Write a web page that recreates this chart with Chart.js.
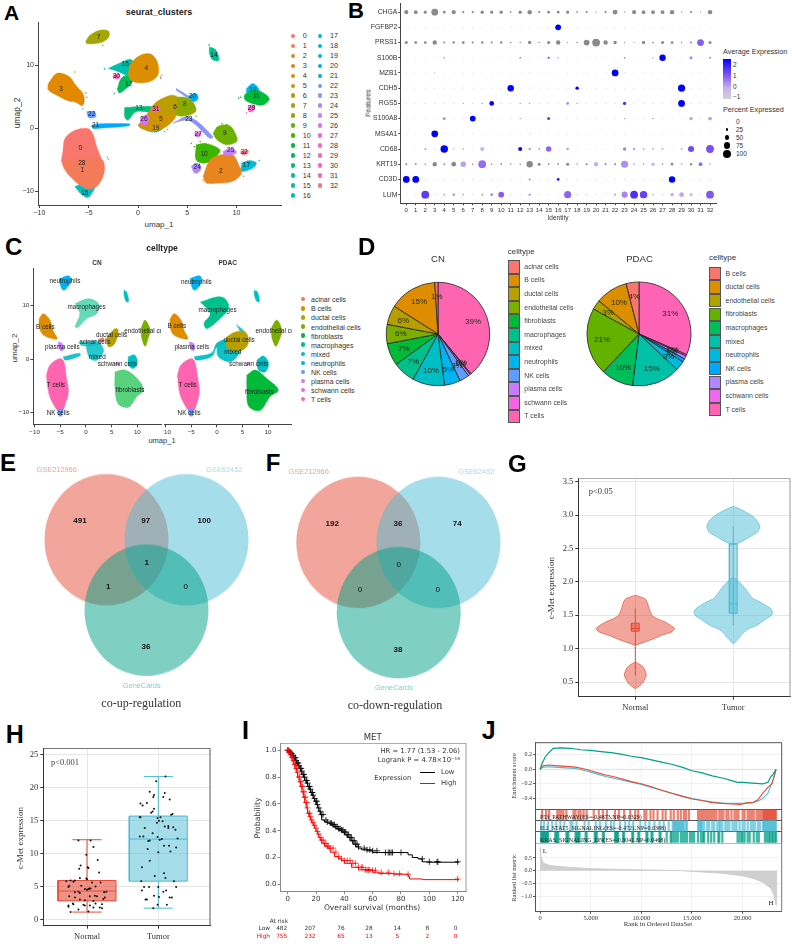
<!DOCTYPE html>
<html>
<head>
<meta charset="utf-8">
<title>Multi-panel figure</title>
<script src="https://cdn.jsdelivr.net/npm/chart.js@4"></script>
<style>
html, body { margin: 0; background: #fff; }
#page { position: relative; width: 792px; height: 944px; overflow: hidden; background: #fff; filter: blur(.35px); font-family: "Liberation Sans", Arial, sans-serif; }
#page canvas { position: absolute; }
.t { position: absolute; white-space: nowrap; line-height: 1; }
.b { position: absolute; }
</style>
</head>
<body>
<div id="page"></div>
<script>
// ---------- panel A: umap clusters (outlines, umap units) ----------
const clusterNames = ['0','1','2','3','4','5','6','7','8','9','10','11','12','13','14','15','16','17','18','19','20','21','22','23','24','25','26','27','28','29','30','31','32'];
const clusterColors = ['#F8766D','#F37B59','#E8851F','#E38900','#DB8E00','#CF9400','#BC9D00','#A3A500','#8BAB00','#6BB100','#3DB600','#00BA38','#00BC59','#00BF7D','#00C094','#00C0AD','#00BFC4','#00BCD8','#00B8E5','#00B3F0','#00ACF6','#00A8FF','#619CFF','#8B93FF','#AC88FF','#C77CFF','#DC71FA','#EE67EB','#F962DD','#FF61C9','#FF62BC','#FF67A4','#FC7080'];
const clusterShapes = [
  [15, [[-3,9.5],[-1.9,10.3],[-.7,10.9],[-.5,9.7],[-1,8.4],[-1.9,8.9]]],
  [12, [[-2.1,6.2],[-1.7,7.9],[-1,8.4],[-.5,7.9],[-.7,7.1],[-1.2,6.3],[-1.9,5.6]]],
  [4, [[-1,8.4],[-.7,10.3],[.3,11.6],[1.35,11.7],[2,10.3],[2,8.4],[1.2,7.4],[0,7.2],[-.7,7.6]]],
  [30, [[-2.5,8.4],[-1.9,8.6],[-1.9,7.9],[-2.5,7.9]]],
  [7, [[-5.3,13.8],[-4.9,14.7],[-3.9,15.5],[-3,15.4],[-2.95,14.5],[-3.55,13.7],[-4.4,13.4],[-5.2,13.4]]],
  [3, [[-9.1,7.1],[-8.2,8.7],[-7,8.2],[-6.3,6.8],[-5.5,5.2],[-5.6,3.6],[-6.3,4.1],[-7,4.3],[-8.2,5.2],[-9.1,6.1]]],
  [14, [[7.25,12.9],[7.9,12.4],[8.2,10.8],[7.6,10.8],[7.25,11.8]]],
  [21, [[-4.7,.5],[-3.9,.7],[-.85,.7],[-.9,.4],[-3.9,0],[-4.6,0]]],
  [22, [[-5.2,2.6],[-4.4,2.6],[-4.3,1.8],[-5,1.7]]],
  [16, [[-6.4,-9.2],[-5.7,-8.9],[-4.4,-9.1],[-4.9,-10.8],[-5.3,-10.9],[-5.9,-10.2]]],
  [0, [[-7.6,-3.4],[-7.4,-1.6],[-6.5,-.4],[-5.2,0],[-4.6,-.8],[-4.2,-2.9],[-3.7,-4.9],[-3.6,-5.6],[-7.6,-5.6]]],
  [1, [[-7.6,-4.9],[-5.6,-4.8],[-3.7,-4.9],[-3.4,-6.6],[-3.9,-8.7],[-4.7,-9.6],[-5.7,-9.2],[-6.9,-7.6],[-7.6,-6]]],
  [13, [[-1.35,3.3],[.85,3.5],[1.7,3.3],[1.5,2.6],[-.2,2.6],[-1,1.3],[-1.35,1.8]]],
  [23, [[3.5,.8],[5.2,1.8],[7.6,-1.3],[7.3,-1.6],[5.2,1.2]]],
  [23, [[3.9,6.3],[5.2,5],[5.2,4.7],[3.9,6]]],
  [19, [[.7,0],[2.2,.4],[2.5,0],[1.9,-.6],[1,-.4]]],
  [5, [[0,.5],[.85,2.1],[1.9,4.2],[3.5,5],[3.5,3.4],[3.9,2.1],[2.9,.3],[1.5,-.5],[.3,0]]],
  [6, [[1.9,4.2],[3.2,5.2],[3.9,5],[4.2,3.4],[3.9,2.1],[3.2,2.4],[2.2,2.4]]],
  [8, [[3.9,5],[5.2,4.7],[5.9,2.9],[5.2,2.1],[3.9,2.1],[4.05,3.7]]],
  [20, [[5.1,5.1],[5.9,5.5],[6.1,4.7],[5.6,4.2]]],
  [31, [[1.35,3.3],[2.2,3.4],[2,2.6],[1.45,2.6]]],
  [26, [[.25,1.7],[1,2.1],[1,.8],[.35,.5]]],
  [27, [[5.75,-.7],[6.4,-.7],[6.25,-1.3],[5.85,-1.3]]],
  [9, [[7.6,-.8],[8.1,.3],[9.3,.4],[10,-1.3],[10,-2.1],[9,-2.6],[8,-1.8]]],
  [10, [[5.9,-2.6],[6.9,-2.4],[8.3,-3.4],[7.9,-4.5],[6.9,-5.5],[5.9,-5]]],
  [24, [[5.4,-6],[5.9,-5.5],[6.4,-6],[6.25,-6.8],[5.75,-7.1]]],
  [17, [[10.5,-5.5],[11.3,-5.1],[12,-5.5],[11.65,-6.3],[10.5,-6.8]]],
  [2, [[6.6,-7.6],[7.3,-5],[8.4,-4.2],[9.6,-4.2],[10.3,-6.1],[10.5,-7.1],[9.6,-8.4],[7.9,-8.7],[6.9,-8.6]]],
  [25, [[8.6,-3.7],[9.3,-3.2],[10,-3.7],[9.6,-4.2],[8.8,-4.2]]],
  [32, [[10.4,-3.7],[11.2,-3.5],[11,-4.1],[10.5,-4.1]]],
  [18, [[11,6.3],[11.65,7.1],[12.3,6],[11.65,5.5],[11.05,5.3]]],
  [11, [[10.8,5.3],[11.65,6],[12.5,5.8],[13.3,4.7],[12.7,3.7],[11.65,3.9],[10.8,4.6]]],
  [29, [[11.15,3.4],[11.8,3.7],[11.8,2.9],[11.25,2.6]]]
];
// stray cells outside the main clouds: cluster, umap_1, umap_2
const clusterStrays = [[3,-6.4,8.9],[3,-5.3,5.6],[3,-5.2,4.9],[7,-3.6,13.1],[4,2.3,8.1],[26,2.4,8.4],[26,2.3,7.9],[0,-3.1,-4.6],[0,-3,-4.9],[17,12.3,-5.1],[8,5.9,1.9],[9,9,.6],[9,8.5,.7],[10,5.4,-2.4],[10,5.7,-2.9],[10,6.3,-2.1],[11,10.4,4.9],[11,10.2,4.8],[29,11,2.4],[14,7.2,13.2],[5,3,-.2],[5,2.7,-.5],[22,-5.6,3.1],[12,-2.4,5.5],[15,-3.4,9.4],[16,-4.5,-9.5],[2,6.6,-8.2],[2,10.7,-7.6],[6,.5,.7]];
const clusterLabels = [['0',-5.85,-3.2],['28',-5.7,-5.6],['1',-5.65,-6.6],['16',-5.4,-10.2],['22',-4.7,2.3],['21',-4.3,.5],['3',-7.8,6.2],['7',-4,14.4],['15',-1.3,10.2],['4',.85,9.5],['30',-2.2,8.3],['12',-.95,7],['13',.1,3.1],['31',1.8,3],['26',.6,1.5],['5',2.3,1.4],['6',3.75,3.4],['8',4.75,3.8],['20',5.5,5.05],['23',5.15,1.5],['19',1.8,-.05],['14',7.7,11.5],['18',11.65,6.05],['11',12,5],['29',11.5,3.2],['27',6.1,-.95],['9',8.8,-.7],['10',6.7,-4.15],['25',9.4,-3.5],['32',10.75,-3.75],['24',6,-6.15],['2',8.4,-6.8],['17',11,-5.8]];
const umapTicksX = [-10, -5, 0, 5, 10];
const umapTicksY = [-10, 0, 10];

// ---------- panel B: dot plot ----------
const genes = ['LUM','CD3D','KRT19','CD68','MS4A1','S100A8','RGS5','CDH5','MZB1','S100B','PRSS1','FGFBP2','CHGA'];
const identities = [...Array(33).keys()];
const pctCHGA = [45,40,30,85,25,45,15,15,35,30,35,10,35,50,15,25,25,30,10,15,2,15,55,5,45,40,40,40,50,5,15,2,50];
const pctFGFBP2 = [2,2,2,2,2,2,2,2,2,2,2,2,2,2,2,2,70,2,2,2,2,2,2,2,2,2,2,2,2,2,2,2,2];
const pctPRSS1 = [30,25,25,50,15,20,25,15,20,15,20,8,8,35,8,30,50,3,8,70,100,50,35,3,2,35,10,30,25,5,15,85,30];
const pctS100B = [2,2,2,2,10,2,2,2,2,2,2,2,8,2,2,15,5,2,2,2,2,2,2,10,2,2,10,80,2,2,30,2,12];
const pctMZB1 = [2,2,2,5,2,2,2,2,2,2,2,2,2,3,2,2,2,2,2,2,2,2,85,4,2,2,2,2,2,2,2,2,2];
const pctCDH5 = [2,2,2,2,2,2,2,2,2,2,2,80,2,2,2,2,2,2,35,2,2,2,2,2,2,2,2,2,2,90,2,2,2];
const pctRGS5 = [2,2,2,2,2,3,5,2,5,55,2,2,5,5,2,2,2,25,5,2,2,2,2,35,2,2,2,2,2,85,2,2,2];
const pctS100A8 = [2,2,2,2,25,3,2,70,2,2,2,2,5,2,2,30,2,2,2,2,2,2,2,4,2,2,5,2,2,2,35,2,40];
const pctMS4A1 = [2,2,2,85,2,2,2,2,2,2,2,2,2,5,2,2,2,2,2,2,2,3,2,2,2,2,2,2,2,2,2,2,2];
const pctCD68 = [2,2,15,3,95,5,10,2,45,2,3,2,45,20,12,65,2,20,2,2,2,2,2,35,20,12,12,12,2,15,75,2,100];
const pctKRT19 = [15,12,8,50,12,55,65,8,100,8,10,8,8,80,30,12,10,30,5,15,50,15,15,90,15,5,35,8,25,15,20,40,15];
const pctCD3D = [85,85,2,2,3,2,2,2,2,2,2,2,2,12,2,2,25,2,3,2,2,2,2,2,2,2,2,2,80,2,2,2,2];
const pctLUM = [3,3,100,3,15,20,10,3,20,25,70,5,5,20,5,5,3,90,8,8,3,3,15,75,100,95,10,8,35,55,30,3,100];
// average expression where it differs from the low end of the colour bar, by identity
const avgCHGA = {};
const avgFGFBP2 = {16:2.5};
const avgPRSS1 = {31:1.0};
const avgS100B = {4:.5,12:1.2,15:1.5,16:.5,23:.8,26:0,27:2.5,30:.5,32:.7};
const avgMZB1 = {3:0,22:2.5};
const avgCDH5 = {11:2.5,18:2.5,29:2.5};
const avgRGS5 = {6:.5,8:.5,9:2.5,12:.5,13:.5,17:.5,18:.5,23:1.7,29:2.5};
const avgS100A8 = {4:.6,7:2.5,12:.5,15:1.5,23:.5,26:1,30:.2,32:.2};
const avgMS4A1 = {3:2.5,13:0};
const avgCD68 = {2:.2,3:0,4:2.5,5:.3,6:.3,8:-.1,12:2.4,13:.3,14:.3,15:.9,17:.3,23:.6,24:.2,25:.1,26:.1,27:.1,29:0,30:1.3,32:1.2};
const avgKRT19 = {6:.2,8:.8,20:0,23:.4,24:-.3,26:-.2,29:-.3,31:.9,32:-.5};
const avgCD3D = {0:2.5,1:2.5,13:.8,16:2.2,28:2.5};
const avgLUM = {2:1.5,4:0,5:.5,6:.2,8:0,9:.5,10:1,13:.3,17:.9,22:.2,23:.5,24:1.7,25:1.4,26:.1,28:.1,29:.1,30:-.3,32:1.1};
const pctRows = [pctLUM,pctCD3D,pctKRT19,pctCD68,pctMS4A1,pctS100A8,pctRGS5,pctCDH5,pctMZB1,pctS100B,pctPRSS1,pctFGFBP2,pctCHGA];
const avgRows = [avgLUM,avgCD3D,avgKRT19,avgCD68,avgMS4A1,avgS100A8,avgRGS5,avgCDH5,avgMZB1,avgS100B,avgPRSS1,avgFGFBP2,avgCHGA];
const grayGenes = ['CHGA','PRSS1','KRT19'];

// ---------- panel C: cell type umap facets ----------
const cellTypes = ['acinar cells','B cells','ductal cells','endothelial cells','fibroblasts','macrophages','mixed','neutrophils','NK cells','plasma cells','schwann cells','T cells'];
const cellColors = ['#F8766D','#DE8C00','#B79F00','#7CAE00','#00BA38','#00C08B','#00BFC4','#00B4F0','#619CFF','#C77CFF','#F564E3','#FF64B0'];
const facetCN = [
  [7, 1, [[-5.1,15.1],[-3.4,15.6],[-2.8,14.8],[-3.4,13.7],[-4.4,12.9],[-5.1,14.2]]],
  [6, 1, [[7.4,12.9],[7.9,12.6],[8.3,10.8],[7.8,10.8],[7.4,12]]],
  [5, .6, [[-2.1,10.4],[.45,11.3],[2.4,10.4],[2.1,8.5],[.15,7.6],[-1.5,6],[-2.1,6.05],[-1.2,8.5]]],
  [1, 1, [[-9.1,7.6],[-8.3,8.5],[-7,7.3],[-6.4,5.4],[-5.6,3.9],[-6,3.7],[-8.3,4.5],[-9.1,6]]],
  [9, 1, [[-5.4,3.2],[-4.6,2.9],[-4.4,1.7],[-5.1,1.7]]],
  [11, 1, [[-7.7,-3],[-7,-1.1],[-5.1,.1],[-4.3,-.5],[-3.8,-3.6],[-3.4,-6.1],[-4.1,-8.6],[-4.6,-9.8],[-5.5,-9.6],[-6.6,-8],[-7.3,-6.1]]],
  [8, 1, [[-5.6,-9.4],[-4.6,-9.4],[-4.7,-10.6],[-5.3,-10.6]]],
  [6, .9, [[-4.4,.45],[-1.2,1.1],[-1.2,.6],[-4.1,-.2]]],
  [6, .85, [[.1,2.9],[2.7,2.9],[3.4,1.4],[2.1,-.2],[.8,.1],[.1,2]]],
  [6, .75, [[-1.2,3.2],[2.7,3.4],[2.7,2.7],[-.85,2.5]]],
  [2, 1, [[4,3.9],[5.6,5.7],[6.3,5.4],[5.6,2.9],[4.35,2.3]]],
  [0, 1, [[2.4,3.7],[3.4,4],[3.5,3.4],[2.6,3.2]]],
  [3, 1, [[10.8,6],[11.5,7.3],[12.5,5.4],[12.1,3.9],[11.5,2.4],[10.8,4.2]]],
  [10, 1, [[5.8,-.7],[6.3,-.7],[6.3,-1.1],[5.8,-1.1]]],
  [6, 1, [[8.25,.45],[9.5,.75],[10,-.8],[9.2,-1.75],[8.25,-1.1]]],
  [4, .65, [[5.65,-2.4],[7.6,-2.05],[9.9,-3.6],[11.2,-5.8],[9.9,-7],[8.25,-9],[6.3,-8.4],[5.65,-5.5]]]
];
const facetPDAC = [
  [7, 1, [[-5.2,15.1],[-3.4,15.6],[-2.9,14.8],[-3.4,13.7],[-4.4,12.9],[-5.1,14.2]]],
  [6, 1, [[7.3,12.9],[7.9,12.6],[8.3,10.8],[7.8,10.8],[7.3,12]]],
  [5, 1, [[-3.2,10.7],[0,11.65],[1.6,11.3],[2.3,9.5],[.65,7.6],[-1.95,5.7],[-2.5,6.7],[-1.3,8.5]]],
  [1, 1, [[-9.1,7.6],[-8.3,8.5],[-7,7.3],[-6.4,5.4],[-5.6,3.9],[-6.1,3.7],[-8.4,4.5],[-9.1,6]]],
  [9, 1, [[-5.4,3.2],[-4.5,2.9],[-4.4,1.7],[-5,1.7]]],
  [11, 1, [[-7.7,-3],[-7,-1.1],[-5,.1],[-4.3,-.5],[-3.7,-3.6],[-3.4,-6.1],[-4,-8.6],[-4.6,-9.8],[-5.5,-9.6],[-6.6,-8],[-7.3,-6.1]]],
  [8, 1, [[-5.6,-9.4],[-4.6,-9.4],[-4.7,-10.6],[-5.3,-10.6]]],
  [6, .95, [[-4.4,.45],[-1,1.2],[0,3],[1.95,3.7],[1.95,3],[0,2.2],[-1,.5],[-4.1,-.2]]],
  [6, .95, [[0,2.6],[1.95,3.55],[4.9,2.3],[3.9,.45],[2.6,-.5],[.3,.45]]],
  [6, .85, [[3.8,6.5],[5.5,5.1],[4.9,4.8]]],
  [2, 1, [[1.95,4.2],[3.6,5.1],[5.5,5.1],[6.2,3.55],[5.5,2],[3.6,1.5],[1.95,2.3]]],
  [3, 1, [[10.7,6],[11.7,7.3],[12.7,5.4],[12.3,3.9],[11.5,2.4],[10.7,4.2]]],
  [10, 1, [[6,-.7],[6.4,-.7],[6.4,-1.1],[6,-1.1]]],
  [6, 1, [[7.8,-.2],[9.1,.6],[10.1,-.8],[9.4,-2.4],[8.1,-2.05]]],
  [4, 1, [[5.85,-3],[7.5,-2.05],[9.7,-3.6],[12,-5.8],[10.4,-7],[8.4,-9.6],[6.2,-8.8],[5.85,-5.5]]]
];
const labelsCN = [['neutrophils',-4.1,14.5],['macrophages',.1,9.7],['B cells',-7.9,6],['ductal cells',5,4.4],['endothelial cells',11.8,5.2],['acinar cells',1.75,3.1],['plasma cells',-4.6,2.25],['mixed',2.2,.3],['schwann cells',6.1,-1],['fibroblasts',8.6,-5.8],['T cells',-5.85,-4.9],['NK cells',-5.4,-10.1]];
const labelsPDAC = [['neutrophils',-4,14.3],['macrophages',.15,9.2],['B cells',-7.8,6.2],['ductal cells',4.35,3.6],['endothelial cells',11.9,5.2],['plasma cells',-4.9,2.3],['mixed',3.1,1.3],['schwann cells',6.2,-1.05],['fibroblasts',8.3,-6.2],['T cells',-5.7,-4.9],['NK cells',-5.4,-10.1]];

// ---------- panel D: pies (clockwise from 12 o'clock) ----------
const pieCNValues = [39,.3,.7,3,5,10,7,7,6,6,15,1];
const pieCNLabels = ['39%','0%','1%','3%','5%','10%','7%','7%','6%','6%','15%','1%'];
const pieCNColors = ['#FF64B0','#F564E3','#C77CFF','#619CFF','#00B4F0','#00BFC4','#00C08B','#00BA38','#7CAE00','#B79F00','#DE8C00','#F8766D'];
const piePDACTypes = ['B cells','ductal cells','endothelial cells','fibroblasts','macrophages','mixed','neutrophils','NK cells','plasma cells','schwann cells','T cells'];
const piePDACKeys = ['#F8766D','#DB8E00','#AEA200','#64B200','#00BD5C','#00C1A7','#00BADE','#00A6FF','#B385FF','#EF67EB','#FF63B6'];
const piePDACValues = [31.5,.5,1,1,3,15,10,21,3,10,4];
const piePDACLabels = ['31%','0%','1%','1%','3%','15%','10%','21%','3%','10%','4%'];

// ---------- panels E, F: venn ----------
const vennColors = ['rgba(230,75,53,.5)','rgba(77,187,213,.5)','rgba(0,160,135,.5)'];
const vennUpX = [106.5, 186.5, 146.5];
const vennUpY = [539.7, 539.7, 610.3];
const vennDownX = [358.3, 438.5, 398.7];
const vennDownY = [542.3, 542.3, 612.7];
const vennSetNames = ['GSE212966','GSE62452','GeneCards'];
const vennUpCounts = ['491','97','100','1','1','0','36'];
const vennDownCounts = ['192','36','74','0','0','0','38'];

// ---------- panel G: violins (y, half width) ----------
const violinNormalUpperY = [1.8,1.75,1.7,1.6,1.5,1.45,1.4,1.35,1.3,1.25,1.2,1.15,1.1,1.05];
const violinNormalUpperW = [0,.095,.12,.14,.17,.22,.3,.36,.4,.37,.27,.19,.1,0];
const violinNormalLowerY = [.8,.75,.7,.6,.5,.45,.4];
const violinNormalLowerW = [0,.06,.09,.112,.08,.05,0];
const violinTumorLowerY = [2.07,2,1.9,1.8,1.75,1.7,1.65,1.6,1.55,1.5,1.45,1.4,1.35,1.3,1.25,1.2,1.1,1.07];
const violinTumorLowerW = [0,.06,.12,.17,.2,.27,.33,.38,.4,.39,.34,.29,.24,.16,.11,.08,.02,0];
const violinTumorUpperY = [3.13,3.1,3.05,3,2.95,2.9,2.83,2.75,2.7,2.65,2.6,2.55];
const violinTumorUpperW = [0,.05,.12,.18,.22,.25,.27,.25,.2,.14,.08,0];
const violinGroups = ['Normal','Tumor'];
// low whisker, q1, median, q3, high whisker
const violinBoxNormal = [.6,1.26,1.3,1.38,1.6];
const violinBoxTumor = [1.35,1.53,1.67,2.57,2.83];
const violinTicks = [.5,1,1.5,2,2.5,3,3.5];
const violinTickLabels = ['0.5','1.0','1.5','2.0','2.5','3.0','3.5'];

// ---------- panel H: box plot with points ----------
const boxNormal = [1.1,2.8,4.3,5.9,12.1];
const boxTumor = [1.7,5.8,12.2,15.7,21.7];
const boxTicks = [0,5,10,15,20,25];
const pointsNormal = [[-.12,12],[.05,12],[.09,11],[-.01,9.8],[.15,9],[.01,7.9],[.02,7.8],[-.09,8.2],[-.11,7.7],[.17,7.1],[-.1,6.3],[-.17,5.9],[-.29,5.8],[-.23,5.9],[-.19,5.7],[-.01,6.2],[0,6.1],[.07,5.6],[.19,5.6],[-.25,5.1],[-.26,4.9],[-.08,5.1],[.05,4.7],[.12,5],[.02,4.6],[.03,4.7],[-.03,4.6],[0,4.5],[-.12,4.2],[-.17,4.1],[-.1,4],[.27,4.2],[.24,4.1],[-.25,3.5],[.04,3.5],[.11,3.6],[.14,3.5],[-.17,3.3],[.25,3.3],[.23,3.1],[-.1,3],[-.03,2.9],[.09,2.8],[-.26,2.1],[-.19,2.3],[-.2,2.4],[.04,2.1],[-.03,2.1],[.12,2.4],[.21,2.3],[.09,1.8],[.18,1.8],[.21,1.7],[-.12,1.5],[-.23,1.1],[.02,1.2],[-.26,1.9],[-.05,2.2]];
const pointsTumor = [[1.1,21.7],[.97,21],[.88,19.4],[1.09,19.2],[.94,18.9],[.93,18.6],[1.07,18.6],[1.16,18.2],[.84,17.7],[.75,17.6],[.78,17.3],[.94,16.8],[.92,16.4],[.9,16.2],[1.2,16],[1.18,15.9],[.74,15.5],[.75,15.5],[1.03,15.5],[.99,15.4],[1.01,15],[1.06,14.9],[.98,14.7],[1.14,14.2],[1.09,14.1],[1.14,13.9],[1.21,14],[1.24,13.6],[.81,13.9],[.92,13.1],[.74,12.6],[.79,12.6],[.99,12.5],[1.27,12.3],[1.05,12.2],[1.02,12.1],[.88,12],[.86,11.9],[1.08,11.2],[1.15,11.2],[1.25,10.9],[.85,10.7],[1.17,10.3],[1,10.2],[.88,8.9],[.77,7.9],[1.08,7],[.95,6.6],[1.1,6.3],[1.22,5.8],[.76,5.8],[.8,4.9],[.87,4.9],[1,4.9],[1.25,4.9],[.77,4.4],[1.11,4.4],[1.07,4.2],[.94,3.6],[1.01,3.4],[.84,3],[.82,3],[1.16,3.3],[1.19,3.3],[.99,2.2],[.93,1.7],[1.12,2.2]];

// ---------- panel I: survival ----------
const lowT = [0,1,2,3,4,5,6,7,8,9,10,11,12,13,14,15,16,17,18,19,20,21,22,23,24,26,28,30,32,34,36,38,40,42,44,46,48,50,52,56,60,64,85,88,92,95,98,121];
const lowS = [1,.995,.985,.975,.96,.945,.925,.905,.885,.865,.845,.82,.8,.775,.755,.73,.71,.685,.665,.64,.62,.595,.57,.545,.52,.48,.465,.457,.445,.43,.415,.405,.39,.37,.35,.325,.3,.28,.27,.258,.25,.237,.237,.22,.2,.19,.168,.165];
const highT = [0,1,2,3,4,5,6,7,8,9,10,11,12,13,14,15,16,17,18,19,20,21,22,23,24,26,28,30,33,36,38,40,45,50,55,60,64,75,85,86,95,121];
const highS = [1,.985,.965,.945,.92,.895,.865,.835,.8,.765,.73,.69,.65,.61,.57,.53,.505,.48,.46,.44,.42,.395,.375,.35,.33,.305,.285,.27,.24,.207,.19,.178,.157,.127,.108,.105,.09,.08,.075,.058,.04,.035];
const lowCensor = [0,1,2,3,4,5,5.5,6,7,7.5,8,9,9.5,10,11,11.5,12,13,13.5,14,15,15.5,16,17,17.5,18,19,20,20.5,21,22,23,24,25,27,28,30,31,32,33,34,35,36,37,38,39,40,41,42,43,44,45,46,47,48,49,50,54,56,58,60,63,69,71,72,73,74,80,95,100,105.5,106,120];
const highCensor = [0,.5,1,2,3,3.5,4,5,5.5,6,6.5,7,8,8.5,9,9.5,10,10.5,11,11.5,12,12.5,13,13.5,14,15,15.5,16,17,18,19,20,21,22,23,24,25,26,27,28,29,30,32,34,36,38,40,42,44,46,48,50,52,53,55,56,57,58,60,62,66,71,75,79,85,120];
const kmTicksX = [0,20,40,60,80,100,120];
const kmTicksY = [0,.2,.4,.6,.8,1];
const kmTickLabelsY = ['0.0','0.2','0.4','0.6','0.8','1.0'];
const atRiskLow = ['482','207','76','28','14','8','0'];
const atRiskHigh = ['755','232','65','13','5','2','0'];

// ---------- panel J: GSEA (rank in thousands) ----------
const esTealRank = [0,.2,.5,.8,1.3,2,3,4,5,6,7,8,9,10,11,12,13,14,15,16,17,18,19,19.5,20,21,22,22.5,22.8,23,23.3];
const esTeal = [0,.08,.17,.22,.29,.295,.29,.27,.26,.245,.23,.21,.18,.16,.13,.1,.07,.03,-.02,-.05,-.09,-.12,-.16,-.18,-.18,-.19,-.2,-.18,-.1,-.07,0];
const esRedRank = [0,.3,.8,1.5,2.5,3.5,4.5,5.5,6.5,7.5,9,10,11,12,13,14,15,16,17,18,19,19.8,20.5,21,21.5,22,22.5,22.9,23.3];
const esRed = [0,.05,.06,.05,.04,.03,0,-.04,-.08,-.11,-.17,-.2,-.24,-.29,-.33,-.37,-.41,-.43,-.46,-.47,-.48,-.485,-.46,-.46,-.42,-.33,-.25,-.2,-.01];
const esBlueRank = [0,.3,.8,1.5,2.5,3.5,4.5,5.5,6.5,7.5,9,10,11,12,13,14,15,16,17,18,19,20,21,21.5,22,22.5,23,23.3];
const esBlue = [0,.03,.035,.03,.02,.01,-.02,-.06,-.1,-.13,-.18,-.21,-.25,-.29,-.33,-.37,-.4,-.43,-.45,-.465,-.47,-.47,-.46,-.44,-.4,-.33,-.15,0];
const p53Hits = [.2,.6,.9,1.7,1.9,2.1,2.3,2.6,3.3,3.5,3.8,4,4.3,4.6,5.3,5.8,6.2,6.6,7.4,7.8,8.3,8.9,9.4,9.7,10.3,10.5,10.9,11.2,11.6,12.1,12.4,12.9,13.2,13.6,13.9,14.2,14.4,14.7,15.6,15.8,16,16.2,16.4,16.6,16.8,17,17.2,17.4,17.7,17.9,18.1,18.4,18.6,18.9,19.2,19.4,19.6,20,20.2,20.5,20.7,20.9,21.1,21.4,21.6,21.8,22,22.1,22.2,22.3,22.4,22.5,22.6,22.7,22.8,22.9,23,23.1,23.2,23.3];
const il2Hits = [.1,.4,.8,1.2,1.6,2,2.4,3,3.2,3.6,4.4,4.8,5.5,5.9,6.5,7,7.3,7.9,8.4,8.8,9.2,9.9,10.4,10.8,11.3,11.8,12.2,12.7,13.1,13.2,13.3,13.4,13.5,13.6,13.7,13.8,13.9,14,14.1,14.2,14.4,14.5,15.6,15.7,15.8,15.9,16,16.2,16.5,16.7,17,17.2,17.5,17.7,17.8,18,18.3,18.5,18.7,19,19.2,19.4,19.7,20,20.2,20.5,20.8,21,21.2,21.5,21.7,22,22.1,22.2,22.3,22.4,22.5,22.6,22.7,22.8,22.9,23,23.1,23.2,23.3];
const krasHits = [.1,.2,.3,.4,.5,.6,.7,.8,1.5,1.6,1.7,1.8,2.6,2.7,2.8,3.5,3.6,3.7,3.8,3.9,4.5,4.6,5.4,5.5,5.6,6.2,6.3,7.4,7.5,7.6,7.7,8.2,8.3,9.1,9.2,9.7,9.8,10.5,10.6,11,11.1,11.8,11.9,12.5,12.9,13,13.2,13.4,13.6,13.9,14.1,14.3,14.5,14.8,15,15.2,15.6,15.9,16.1,16.2,16.6,16.9,17.2,17.6,17.7,18,19.5,19.7,19.9,20,20.2,20.5,20.7,21.1,21.4,21.6,22.2,22.4,22.6,22.7,22.9,23,23.2,23.3];
const gseaSets = ['P53_PATHWAY(ES=-0.4873,NP=0.0329)','IL2_STAT5_SIGNALING(ES=-0.4721,NP=0.0388)','KRAS_SIGNALING_DN(ES=-0.3041,NP=0.0468)'];
const metricRank = [0,.05,.1,.2,.3,.5,1,2,3,5,8,12,14,16,18,20,21,22,22.8,23.1,23.3,23.35];
const metric = [.9,.7,.55,.42,.33,.27,.2,.16,.13,.08,.05,.02,0,-.05,-.1,-.2,-.3,-.45,-.7,-.95,-1.35,0];
const gseaTicks = [0,5,10,15,20];
const gseaTickLabels = ['0','5,000','10,000','15,000','20,000'];

// ---------- helpers ----------
const page = document.getElementById('page');
const SERIF = '"Liberation Serif", serif';
const DEJAVU = '"DejaVu Sans", sans-serif';
Chart.defaults.font.family = '"Liberation Sans", Arial, sans-serif';
Chart.defaults.animation = false;
Chart.defaults.responsive = false;
Chart.defaults.events = [];
Chart.defaults.plugins.legend.display = false;
Chart.defaults.plugins.tooltip.enabled = false;

// Absolute text, x/y are the anchor and the vertical centre
function txt(x, y, s, o = {}) {
  const el = document.createElement('div');
  el.className = 't';
  el.textContent = s;
  el.style.left = x + 'px';
  el.style.top = y + 'px';
  el.style.fontSize = (o.size || 7) + 'px';
  if (o.font) el.style.fontFamily = o.font;
  if (o.weight) el.style.fontWeight = o.weight;
  el.style.color = o.color || '#222';
  const ax = o.anchor === 'l' ? '0' : o.anchor === 'r' ? '-100%' : '-50%';
  el.style.transform = `translate(${ax},-50%)` + (o.rotate ? ` rotate(${o.rotate}deg)` : '');
  page.appendChild(el);
  return el;
}

function rect(x, y, w, h, css) {
  const el = document.createElement('div');
  el.className = 'b';
  el.style.cssText += `left:${x}px;top:${y}px;width:${w}px;height:${h}px;${css}`;
  page.appendChild(el);
}

function dot(x, y, r, color) {
  rect(x - r, y - r, 2 * r, 2 * r, `border-radius:50%;background:${color}`);
}

function letter(x, base, s, size) {
  const el = txt(x, base, s, { size, weight: 'bold', color: '#000', anchor: 'l' });
  el.style.transform = 'translate(0,-86%)';
}

function axis(min, max, vals, o = {}) {
  return {
    type: 'linear', min, max,
    afterBuildTicks: s => { s.ticks = vals.map(v => ({ value: v })); },
    grid: { display: true, drawOnChartArea: !!o.grid, color: o.grid || 'transparent', tickLength: o.tick ?? 3, tickColor: o.axis || '#444', drawTicks: vals.length > 0 },
    border: { display: o.line !== false, color: o.axis || '#444', width: o.w || 1 },
    ticks: {
      display: vals.length > 0, autoSkip: false, maxRotation: 0, minRotation: 0, padding: o.pad ?? 1, color: o.color || '#333',
      font: { size: o.size || 6.5, family: o.font || Chart.defaults.font.family },
      callback: o.labels ? (v, i) => o.labels[i] : v => String(v).replace('-', '\u2212')
    }
  };
}

// Chart whose plot area lands on plot = [left, top, right, bottom] in page pixels
function frameChart(plot, m, cfg) {
  const [l, t, r, b] = plot;
  const bx = Math.floor(l - m[0]), by = Math.floor(t - m[1]);
  const bw = Math.ceil(r + m[2]) - bx, bh = Math.ceil(b + m[3]) - by;
  const c = document.createElement('canvas');
  c.width = bw; c.height = bh;
  c.style.left = bx + 'px'; c.style.top = by + 'px';
  c.style.width = bw + 'px'; c.style.height = bh + 'px';
  page.appendChild(c);
  cfg.options = cfg.options || {};
  cfg.options.layout = { autoPadding: false, padding: { top: t - by, right: bx + bw - r, left: 0, bottom: 0 } };
  cfg.options.scales.y.afterFit = s => { s.width = l - bx; s.paddingTop = s.paddingBottom = 0; };
  cfg.options.scales.x.afterFit = s => { s.height = by + bh - b; s.paddingLeft = s.paddingRight = 0; };
  return new Chart(c.getContext('2d'), cfg);
}

// Filled outline through the scales
function shape(pts, color, alpha = 1, tension = .35) {
  const closed = pts.concat([pts[0]]);
  return {
    data: closed.map(p => ({ x: p[0], y: p[1] })), showLine: true, fill: 'shape', tension, pointRadius: 0,
    backgroundColor: color + Math.round(alpha * 255).toString(16).padStart(2, '0'),
    borderColor: color + Math.round(alpha * 200).toString(16).padStart(2, '0'), borderWidth: 1, borderDash: [1, 1]
  };
}

function line(xs, ys, color, w = 1, extra = {}) {
  return Object.assign({ data: xs.map((x, i) => ({ x, y: ys[i] })), showLine: true, pointRadius: 0, borderColor: color, borderWidth: w, tension: 0 }, extra);
}

// Text at data coordinates
function dataText(items, font, color, clip) {
  return {
    id: 'dataText',
    afterDatasetsDraw(chart) {
      const { ctx, scales, chartArea: a } = chart;
      ctx.save();
      if (clip) { ctx.beginPath(); ctx.rect(a.left, a.top, a.width, a.height); ctx.clip(); }
      ctx.font = font; ctx.fillStyle = color; ctx.textAlign = 'center'; ctx.textBaseline = 'middle';
      items.forEach(([s, x, y]) => ctx.fillText(s, scales.x.getPixelForValue(x), scales.y.getPixelForValue(y)));
      ctx.restore();
    }
  };
}

// Top and right edge of a boxed panel
function frameEdges(color) {
  return {
    id: 'frameEdges',
    afterDraw(chart) {
      const { ctx, chartArea: a } = chart;
      ctx.save();
      ctx.strokeStyle = color; ctx.lineWidth = 1;
      ctx.beginPath(); ctx.moveTo(a.left, a.top); ctx.lineTo(a.right, a.top); ctx.lineTo(a.right, a.bottom); ctx.stroke();
      ctx.restore();
    }
  };
}

// Later entries sit on top; Chart.js paints the first dataset last
function stacked(list) { return list.slice().reverse(); }

// ---------- A ----------
letter(4, 20, 'A', 21);
txt(159, 11.5, 'seurat_clusters', { size: 9, weight: 'bold' });
txt(17, 113, 'umap_2', { size: 8.5, rotate: -90, color: '#333' });
txt(159, 225, 'umap_1', { size: 8, color: '#333' });
frameChart([38, 22, 281, 205], [30, 0, 4, 14], {
  type: 'scatter',
  data: {
    datasets: stacked([
      ...clusterShapes.map(([i, pts]) => shape(pts, clusterColors[i])),
      {
        data: clusterStrays.map(([i, x, y]) => ({ x, y })), pointRadius: .8, pointBorderWidth: 0,
        pointBackgroundColor: clusterStrays.map(([i]) => clusterColors[i])
      }
    ])
  },
  options: { scales: { x: axis(-10.14, 14.5, umapTicksX, { size: 7 }), y: axis(-12.14, 16.82, umapTicksY, { size: 7 }) } },
  plugins: [dataText(clusterLabels, '6.5px "Liberation Sans"', '#222')]
});
clusterNames.forEach((n, i) => {
  const col = i < 17 ? 0 : 1, row = col ? i - 17 : i;
  const y = 36 + row * 9.98;
  dot(col ? 320 : 293, y, 2.4, clusterColors[i]);
  txt(col ? 330 : 302.7, y, n, { size: 7.2, anchor: 'l', color: '#333' });
});

// ---------- B ----------
letter(348, 19, 'B', 22);
const exprStops = [[-1, [211,211,211]], [0, [196,176,240]], [1, [138,92,240]], [2.5, [0,0,255]]];
function exprColor(v) {
  for (let i = 1; i < exprStops.length; i++) {
    if (v <= exprStops[i][0]) {
      const [a, ca] = exprStops[i - 1], [b, cb] = exprStops[i];
      const f = (v - a) / (b - a);
      return `rgb(${ca.map((c, k) => Math.round(c + (cb[k] - c) * f)).join(',')})`;
    }
  }
  return 'rgb(0,0,255)';
}
const dotRadius = pct => .5 + pct / 100 * 3.4;
const dotData = [], dotColors = [];
genes.forEach((g, row) => {
  identities.forEach(col => {
    dotData.push({ x: col, y: row, r: dotRadius(pctRows[row][col]) });
    const avg = avgRows[row][col];
    dotColors.push(avg === undefined ? (grayGenes.includes(g) ? '#8A8A8A' : '#D6D6D6') : exprColor(avg));
  });
});
frameChart([400.3, 3, 716, 203.3], [40, 3, 2, 10], {
  type: 'bubble',
  data: { datasets: [{ data: dotData, backgroundColor: dotColors, borderWidth: 0 }] },
  options: {
    scales: {
      x: axis(-.63, 32.63, identities, { size: 6, tick: 2 }),
      y: axis(-.57, 12.6, genes.map((g, i) => i), { labels: genes, size: 6.8, tick: 2 })
    }
  }
});
txt(368, 103, 'Features', { size: 7, rotate: -90, color: '#333' });
txt(558, 218, 'Identity', { size: 6.5, color: '#333' });
txt(723, 52, 'Average Expression', { size: 7.2, anchor: 'l', color: '#333' });
rect(723, 59, 8, 40, 'background:linear-gradient(to top,#D3D3D3,#C4B0F0 28%,#8A5CF0 57%,#0000FF)');
[['2', 65], ['1', 76], ['0', 86.5], ['\u22121', 97]].forEach(([s, y]) => txt(733, y, s, { size: 6.5, anchor: 'l', color: '#333' }));
txt(723, 110, 'Percent Expressed', { size: 7.2, anchor: 'l', color: '#333' });
[[0, 121.5], [25, 129.5], [50, 137.5], [75, 145.5], [100, 154]].forEach(([p, y]) => {
  dot(727, y, dotRadius(p), p ? '#000' : '#ccc');
  txt(736, y, String(p), { size: 6.5, anchor: 'l', color: '#333' });
});

// ---------- C ----------
letter(5, 256, 'C', 24);
letter(358, 256, 'D', 24);
txt(162, 248, 'celltype', { size: 8.5, weight: 'bold' });
txt(97, 263, 'CN', { size: 6.5, weight: 'bold', color: '#333' });
txt(227.7, 263, 'PDAC', { size: 6.5, weight: 'bold', color: '#333' });
txt(15, 348, 'umap_2', { size: 8, rotate: -90, color: '#333' });
txt(162, 440.7, 'umap_1', { size: 7.5, color: '#333' });
function facet(plot, m, shapes, labels, showY) {
  frameChart(plot, m, {
    type: 'scatter',
    data: { datasets: stacked(shapes.map(([i, a, pts]) => shape(pts, cellColors[i], a))) },
    options: {
      scales: {
        x: axis(-10.25, 14.6, umapTicksX, { size: 6.2 }),
        y: axis(-12.2, 17, showY ? umapTicksY : [], { size: 6.2, line: showY })
      }
    },
    plugins: [dataText(labels, '6.3px "Liberation Sans"', '#222', true)]
  });
}
facet([33.3, 268.3, 161, 424.3], [26, 0, 1, 12], facetCN, labelsCN, true);
facet([164.3, 268.3, 291.7, 424.3], [1, 0, 1, 12], facetPDAC, labelsPDAC, false);
cellTypes.forEach((n, i) => {
  const y = 299.3 + i * 9.07;
  dot(303, y, 2.2, cellColors[i]);
  txt(311, y, n, { size: 7, anchor: 'l', color: '#333' });
});

// ---------- D ----------
function pie(cx, cy, r, values, colors, labels) {
  const size = 2 * r + 8;
  const c = document.createElement('canvas');
  c.width = c.height = Math.ceil(size);
  c.style.width = c.style.height = Math.ceil(size) + 'px';
  c.style.left = (cx - Math.ceil(size) / 2) + 'px';
  c.style.top = (cy - Math.ceil(size) / 2) + 'px';
  page.appendChild(c);
  new Chart(c.getContext('2d'), {
    type: 'pie',
    data: { datasets: [{ data: values, backgroundColor: colors, borderColor: '#222', borderWidth: .8 }] },
    options: { radius: r, layout: { padding: 0 } },
    plugins: [{
      id: 'pieText',
      afterDatasetsDraw(chart) {
        const { ctx } = chart;
        ctx.save();
        ctx.font = '8px "Liberation Sans"'; ctx.fillStyle = '#1a2a1a'; ctx.textAlign = 'center'; ctx.textBaseline = 'middle';
        chart.getDatasetMeta(0).data.forEach((arc, i) => {
          const a = (arc.startAngle + arc.endAngle) / 2;
          ctx.fillText(labels[i], arc.x + Math.cos(a) * r * .72, arc.y + Math.sin(a) * r * .72);
        });
        ctx.restore();
      }
    }]
  });
}
pie(438.3, 334.3, 51.7, pieCNValues, pieCNColors, pieCNLabels);
pie(639.3, 334.3, 52, piePDACValues, piePDACKeys.slice().reverse(), piePDACLabels);
txt(438, 259.3, 'CN', { size: 9.6, color: '#333' });
txt(639.5, 259.3, 'PDAC', { size: 9.6, color: '#333' });
function pieKey(x, yTitle, y0, names, colors) {
  txt(x, yTitle, 'celltype', { size: 8, anchor: 'l', color: '#333' });
  names.forEach((n, i) => {
    const y = y0 + i * 13.6;
    rect(x, y, 12.4, 13.6, `box-sizing:border-box;background:${colors[i]};border:1px solid #555`);
    txt(x + 16.6, y + 6.8, n, { size: 6.9, anchor: 'l', color: '#444' });
  });
}
pieKey(507.7, 251.7, 260, cellTypes, cellColors);
pieKey(709, 258, 266.7, piePDACTypes, piePDACKeys);

// ---------- E, F ----------
// Circles come out slightly tall in the reference, the canvas is stretched to match
function venn(left, top, w, h, xs, ys) {
  const stretch = 1.06;
  const hidden = { line: false };
  const xAxis = axis(left, left + w, [], hidden);
  const yAxis = Object.assign(axis(top, top + h * stretch, [], hidden), { reverse: true });
  xAxis.grid.display = false;
  yAxis.grid.display = false;
  frameChart([left, top, left + w, top + h], [0, 0, 0, 0], {
    type: 'bubble',
    data: { datasets: [{ data: xs.map((x, i) => ({ x, y: ys[i], r: 62 })), backgroundColor: vennColors, borderWidth: 0, clip: false }] },
    options: { scales: { x: xAxis, y: yAxis } }
  }).canvas.style.cssText += `transform:scaleY(${stretch});transform-origin:0 0;`;
}
letter(0, 472, 'E', 24);
letter(265.7, 472, 'F', 24);
venn(30, 465, 230, 220, vennUpX, vennUpY);
venn(285, 465, 230, 220, vennDownX, vennDownY);
const setColors = ['#F0A398', '#A5DDEA', '#7FD0C3'];
function vennText(names, pos, counts, cpos, title, tx, ty) {
  names.forEach((n, i) => txt(pos[i][0], pos[i][1], n, { size: 7.4, color: setColors[i] }));
  counts.forEach((s, i) => txt(cpos[i][0], cpos[i][1], s, { size: 8, weight: s === '0' ? 'normal' : 'bold', color: '#111' }));
  txt(tx, ty, title, { size: 12, font: SERIF, color: '#333' });
}
vennText(vennSetNames, [[56.7, 470], [224.3, 470], [141.7, 686]], vennUpCounts,
  [[80, 521.3], [145.7, 521.3], [204.3, 521.3], [146.7, 562.7], [108.3, 587], [185.7, 587], [146, 647]], 'co-up-regulation', 141.3, 703);
vennText(vennSetNames, [[308.7, 472.3], [476.3, 472.3], [394, 688.3]], vennDownCounts,
  [[332.3, 523.7], [398, 523.7], [457.3, 523.7], [398.7, 565], [360, 589.7], [437.7, 589.7], [398, 649.7]], 'co-down-regulation', 395, 705);

// ---------- G ----------
letter(508, 473, 'G', 24);
const NPG_RED = '#E64B35', NPG_BLUE = '#4DBBD5';
function violin(center, ys, ws, color) {
  const right = ys.map((y, i) => [center + ws[i], y]);
  const left = ys.map((y, i) => [center - ws[i], y]).reverse();
  return Object.assign(shape(right.concat(left), color, .5, .2), { borderColor: color + 'AA', borderDash: [] });
}
// Whisker runs through the box in G; in H it stops at the box and has caps
function boxMarks(center, b, hw, capW, color, fillAlpha) {
  const [lo, q1, med, q3, hi] = b;
  const box = Object.assign(shape([[center - hw, q1], [center + hw, q1], [center + hw, q3], [center - hw, q3]], color, fillAlpha, 0), { borderColor: color, borderDash: [] });
  const medLine = line([center - hw, center + hw], [med, med], color, 1);
  if (!capW) return [line([center, center], [lo, hi], color, 1), box, medLine];
  return [
    line([center, center], [lo, q1], color, 1),
    line([center, center], [q3, hi], color, 1),
    box, medLine,
    line([center - capW, center + capW], [lo, lo], color, 1),
    line([center - capW, center + capW], [hi, hi], color, 1)
  ];
}
frameChart([578.3, 478.3, 790, 696.7], [30, 0, 1, 18], {
  type: 'scatter',
  data: {
    datasets: stacked([
      violin(0, violinNormalUpperY, violinNormalUpperW, NPG_RED),
      violin(0, violinNormalLowerY, violinNormalLowerW, NPG_RED),
      violin(1, violinTumorLowerY, violinTumorLowerW, NPG_BLUE),
      violin(1, violinTumorUpperY, violinTumorUpperW, NPG_BLUE),
      ...boxMarks(0, violinBoxNormal, .04, 0, NPG_RED, .5),
      ...boxMarks(1, violinBoxTumor, .04, 0, NPG_BLUE, .5)
    ])
  },
  options: {
    scales: {
      x: axis(-.582, 1.579, [0, 1], { labels: violinGroups, font: SERIF, size: 8.5, grid: '#e6e6e6', axis: '#333', pad: 3 }),
      y: axis(.28, 3.55, violinTicks, { labels: violinTickLabels, font: SERIF, size: 8.5, grid: '#e6e6e6', axis: '#333', pad: 2 })
    }
  },
  plugins: [frameEdges('#999')]
});
txt(600.7, 490.7, 'p<0.05', { size: 8.5, font: SERIF, color: '#333' });
txt(551, 588, 'c-Met expression', { size: 9, font: SERIF, rotate: -90, color: '#333' });

// ---------- H ----------
letter(5.7, 743, 'H', 25);
const scatterDots = (pts) => ({ data: pts.map(p => ({ x: p[0], y: p[1] })), pointRadius: 1, pointBackgroundColor: '#111', pointBorderWidth: 0 });
frameChart([43.3, 748.3, 210, 925.7], [26, 0, 1, 14], {
  type: 'scatter',
  data: {
    datasets: stacked([
      ...boxMarks(0, boxNormal, .407, .205, NPG_RED, .6),
      ...boxMarks(1, boxTumor, .407, .205, NPG_BLUE, .5),
      scatterDots(pointsNormal),
      scatterDots(pointsTumor)
    ])
  },
  options: {
    scales: {
      x: axis(-.613, 1.725, [0, 1], { labels: violinGroups, font: SERIF, size: 8.5, grid: '#e6e6e6', axis: '#333', pad: 3 }),
      y: axis(-.97, 26, boxTicks, { font: SERIF, size: 8.5, grid: '#e6e6e6', axis: '#333', pad: 2 })
    }
  },
  plugins: [frameEdges('#555')]
});
txt(65, 762, 'p<0.001', { size: 8.5, font: SERIF, color: '#444' });
txt(20, 838, 'c-Met expression', { size: 9, font: SERIF, rotate: -90, color: '#333' });

// ---------- I ----------
letter(242, 739, 'I', 25);
letter(481.7, 739, 'J', 25);
function survivalAt(ts, ss, t) {
  let s = ss[0];
  ts.forEach((v, i) => { if (v <= t) s = ss[i]; });
  return s;
}
function censorMarks(times, ts, ss, color) {
  return {
    data: times.map(t => ({ x: t, y: survivalAt(ts, ss, t) })),
    pointStyle: 'cross', pointRadius: 3, pointBorderWidth: 1, pointBorderColor: color
  };
}
frameChart([280, 743.3, 466, 891.7], [26, 0, 1, 12], {
  type: 'scatter',
  data: {
    datasets: stacked([
      line(lowT, lowS, '#000', 1, { stepped: 'after' }),
      line(highT, highS, '#f00', 1, { stepped: 'after' }),
      censorMarks(lowCensor, lowT, lowS, 'rgba(0,0,0,.8)'),
      censorMarks(highCensor, highT, highS, 'rgba(255,0,0,.7)')
    ])
  },
  options: {
    scales: {
      x: axis(-5.44, 125.9, kmTicksX, { font: DEJAVU, size: 7, axis: '#888', color: '#333', tick: 2.5, pad: 1 }),
      y: axis(-.055, 1.052, kmTicksY, { labels: kmTickLabelsY, font: DEJAVU, size: 7, axis: '#888', color: '#333', tick: 2.5, pad: 1 })
    }
  },
  plugins: [frameEdges('#999')]
});
txt(372.7, 736.7, 'MET', { size: 8.5, font: DEJAVU, color: '#333' });
txt(460, 751, 'HR = 1.77 (1.53 - 2.06)', { size: 6.8, font: DEJAVU, anchor: 'r', color: '#333' });
txt(460, 760, 'Logrank P = 4.78\u00d710\u207b\u00b9\u2074', { size: 6.8, font: DEJAVU, anchor: 'r', color: '#333' });
txt(374.3, 777.7, 'Expression', { size: 6.8, font: DEJAVU, anchor: 'l', color: '#333' });
rect(420, 772, 15, 1, 'background:#000');
rect(420, 783, 15, 1, 'background:#f00');
txt(441, 772.3, 'Low', { size: 6.8, font: DEJAVU, anchor: 'l', color: '#333' });
txt(441, 783.3, 'High', { size: 6.8, font: DEJAVU, anchor: 'l', color: '#333' });
txt(372, 908, 'Overall survival (months)', { size: 7.6, font: DEJAVU, color: '#333' });
txt(258.3, 818.3, 'Probability', { size: 7.8, font: DEJAVU, rotate: -90, color: '#333' });
txt(288, 921.7, 'At risk', { size: 5.8, font: DEJAVU, anchor: 'r', color: '#333' });
txt(270, 929, 'Low', { size: 5.8, font: DEJAVU, anchor: 'r', color: '#333' });
txt(270, 936.7, 'High', { size: 5.8, font: DEJAVU, anchor: 'r', color: '#f00' });
const atRiskX = [281.7, 310, 341, 369, 397.3, 427.3, 455.7];
atRiskX.forEach((x, i) => {
  txt(x, 929, atRiskLow[i], { size: 5.8, font: DEJAVU, color: '#333' });
  txt(x, 936.7, atRiskHigh[i], { size: 5.8, font: DEJAVU, color: '#f00' });
});

// ---------- J ----------
const NPG_TEAL = '#00A087';
const gseaX = (vals, o = {}) => axis(-.5, 23.86, vals, Object.assign({ font: SERIF, size: 6.5, axis: '#555', tick: 2 }, o));
frameChart([535, 742.7, 781.7, 809], [18, 0, 1, 0], {
  type: 'scatter',
  data: {
    datasets: stacked([
      line([0, 23.3], [0, 0], '#ccc', .8, { borderDash: [1, 1] }),
      line(esBlueRank, esBlue, NPG_BLUE, 1.1),
      line(esRedRank, esRed, NPG_RED, 1.1),
      line(esTealRank, esTeal, NPG_TEAL, 1.2)
    ])
  },
  options: {
    scales: {
      x: Object.assign(gseaX(gseaTicks, { labels: gseaTickLabels, grid: '#f0f0f0', tick: 0 }), { ticks: { display: false } }),
      y: axis(-.548, .367, [-.4, -.2, 0, .2], { labels: ['\u22120.4', '\u22120.2', '0.0', '0.2'], font: SERIF, size: 6, axis: '#555', tick: 2, grid: '#f0f0f0' })
    }
  },
  plugins: [frameEdges('#555')]
});
function rug(hits, level, color) {
  return {
    data: hits.map(x => ({ x, y: level })), pointStyle: 'line', rotation: 90,
    pointRadius: 5.4, pointBorderWidth: 2.2, pointBorderColor: color
  };
}
frameChart([535, 809, 781.7, 843], [18, 0, 1, 0], {
  type: 'scatter',
  data: { datasets: [rug(p53Hits, 2.5, 'rgba(230,75,53,.7)'), rug(il2Hits, 1.5, 'rgba(77,187,213,.7)'), rug(krasHits, .5, 'rgba(0,160,135,.75)')] },
  options: {
    scales: {
      x: gseaX([], { line: false }),
      y: axis(0, 3, [0, 1, 2, 3], { labels: ['', '', '', ''], grid: '#555', axis: '#555', tick: 0 })
    }
  },
  plugins: [frameEdges('#555')]
});
gseaSets.forEach((s, i) => txt(540, [816.7, 828.3, 839.7][i], s, { size: 6, font: SERIF, anchor: 'l', color: '#222' }));
frameChart([535, 843, 781.7, 911.7], [18, 0, 1, 8], {
  type: 'scatter',
  data: {
    datasets: [line(metricRank, metric, '#C8C8C8', .8, { fill: 'origin', backgroundColor: '#CFCFCF' })]
  },
  options: {
    scales: {
      x: gseaX(gseaTicks, { labels: gseaTickLabels, grid: '#f0f0f0' }),
      y: axis(-1.608, 1.086, [-1, -.5, 0, .5], { labels: ['\u22121.0', '\u22120.5', '0.0', '0.5'], font: SERIF, size: 6, axis: '#555', tick: 2, grid: '#f0f0f0' })
    }
  },
  plugins: [frameEdges('#777')]
});
txt(545, 851, 'L', { size: 7, font: SERIF });
txt(771, 902.7, 'H', { size: 7, font: SERIF });
txt(514.3, 776, 'Enrichment score', { size: 6.5, font: SERIF, rotate: -90, color: '#333' });
txt(514, 878, 'Ranked list metric', { size: 6.5, font: SERIF, rotate: -90, color: '#333' });
txt(658, 924.3, 'Rank in Ordered DataSet', { size: 6.8, font: SERIF, color: '#333' });
</script>
</body>
</html>
